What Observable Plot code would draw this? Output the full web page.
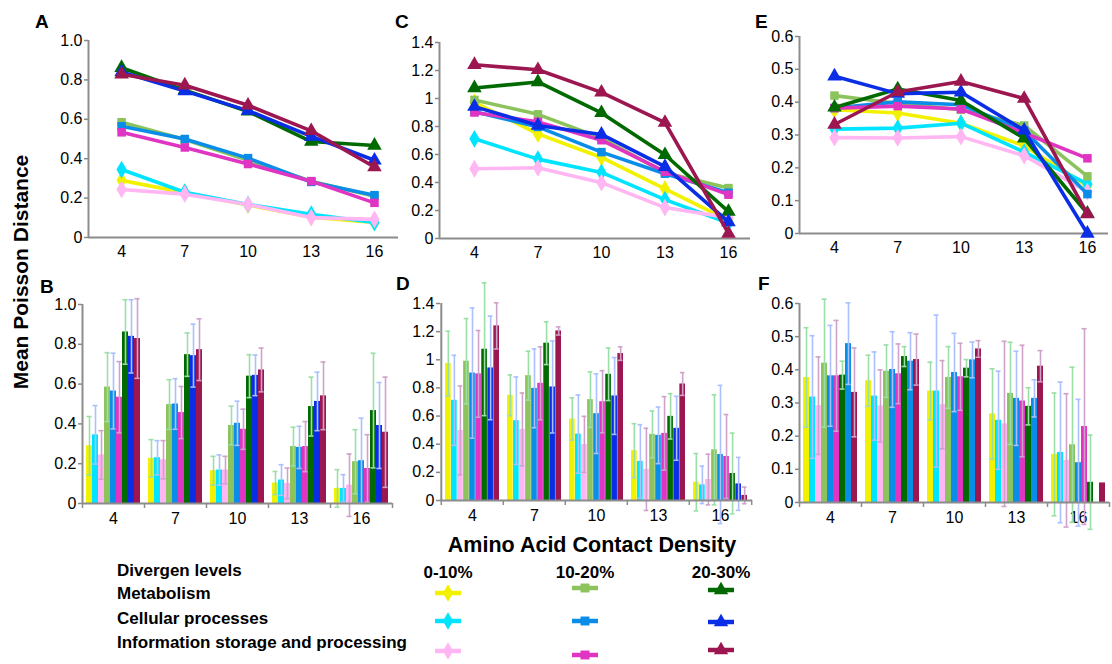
<!DOCTYPE html>
<html><head><meta charset="utf-8">
<script src="https://cdn.jsdelivr.net/npm/d3@7"></script>
<script src="https://cdn.jsdelivr.net/npm/@observablehq/plot@0.6"></script>
<style>
body{margin:0;background:#fff;}
#wrap{position:relative;width:1112px;height:664px;overflow:hidden;font-family:"Liberation Sans",Arial,sans-serif;background:#fff;}
.panel{position:absolute;}
.panel svg [aria-label="y-axis tick"], .panel svg [aria-label="y-axis"] .tick line{stroke:#888;stroke-width:1.5;}
#overlay{position:absolute;left:0;top:0;pointer-events:none;}
</style></head><body><div id="wrap"></div>
<script>
// ---------- data ----------
const densities = [4, 7, 10, 13, 16];
const groups = ["Metabolism", "Cellular processes", "Information storage and processing"];
const levels = ["0-10%", "10-20%", "20-30%"];
// series order: each divergence level x each functional group
const seriesKeys = levels.flatMap(l => groups.map(g => l + " " + g));

// Panels A / B (means and error half-widths)
const meanAB = [
  [0.290, 0.227, 0.165, 0.103, 0.076],
  [0.345, 0.230, 0.168, 0.118, 0.076],
  [0.244, 0.220, 0.168, 0.101, 0.092],
  [0.585, 0.497, 0.392, 0.286, 0.210],
  [0.565, 0.500, 0.403, 0.282, 0.215],
  [0.534, 0.457, 0.373, 0.286, 0.176],
  [0.862, 0.748, 0.640, 0.487, 0.467],
  [0.840, 0.743, 0.644, 0.513, 0.392],
  [0.829, 0.773, 0.671, 0.541, 0.358]
];
const errAB = [
  [0.147, 0.094, 0.072, 0.058, 0.094],
  [0.147, 0.086, 0.076, 0.077, 0.069],
  [0.122, 0.096, 0.069, 0.077, 0.157],
  [0.173, 0.125, 0.097, 0.097, 0.161],
  [0.190, 0.127, 0.111, 0.106, 0.214],
  [0.179, 0.131, 0.101, 0.126, 0.170],
  [0.162, 0.109, 0.108, 0.148, 0.288],
  [0.184, 0.158, 0.102, 0.147, 0.216],
  [0.200, 0.155, 0.110, 0.170, 0.277]
];
// Panels C / D
const meanCD = [
  [0.973, 0.747, 0.579, 0.354, 0.130],
  [0.712, 0.567, 0.472, 0.278, 0.111],
  [0.498, 0.505, 0.399, 0.221, 0.149],
  [0.990, 0.887, 0.717, 0.470, 0.360],
  [0.906, 0.797, 0.617, 0.463, 0.327],
  [0.900, 0.833, 0.702, 0.477, 0.313],
  [1.075, 1.118, 0.897, 0.598, 0.192],
  [0.942, 0.807, 0.743, 0.513, 0.118],
  [1.241, 1.205, 1.044, 0.828, 0.036]
];
const errCD = [
  [0.230, 0.145, 0.150, 0.192, 0.204],
  [0.320, 0.311, 0.278, 0.261, 0.133],
  [0.316, 0.259, 0.199, 0.292, 0.180],
  [0.303, 0.174, 0.197, 0.166, 0.391],
  [0.463, 0.280, 0.283, 0.201, 0.491],
  [0.308, 0.259, 0.221, 0.261, 0.298],
  [0.472, 0.152, 0.187, 0.161, 0.287],
  [0.368, 0.327, 0.273, 0.227, 0.188],
  [0.164, 0.029, 0.048, 0.081, 0.059]
];
// Panels E / F
const meanEF = [
  [0.377, 0.367, 0.336, 0.267, 0.145],
  [0.318, 0.321, 0.336, 0.248, 0.151],
  [0.292, 0.291, 0.295, 0.237, 0.127],
  [0.420, 0.396, 0.377, 0.329, 0.174],
  [0.382, 0.401, 0.392, 0.314, 0.120],
  [0.382, 0.388, 0.379, 0.306, 0.229],
  [0.384, 0.440, 0.405, 0.290, 0.061],
  [0.479, 0.426, 0.430, 0.314, 0.000],
  [0.332, 0.431, 0.463, 0.411, 0.059]
];
const errEF = [
  [0.150, 0.077, 0.087, 0.136, 0.185],
  [0.185, 0.133, 0.229, 0.148, 0.212],
  [0.147, 0.109, 0.133, 0.249, 0.201],
  [0.193, 0.079, 0.093, 0.154, 0.234],
  [0.152, 0.114, 0.118, 0.142, 0.191],
  [0.167, 0.090, 0.101, 0.168, 0.295],
  [0.042, 0.030, 0.026, 0.056, 0.142],
  [0.123, 0.086, 0.054, 0.056, null],
  [0.134, 0.077, 0.025, 0.047, null]
];
// axis ticks
const ticksAB = [0, 0.2, 0.4, 0.6, 0.8, 1.0];
const tickLabelsAB = ["0", "0.2", "0.4", "0.6", "0.8", "1.0"];
const ticksCD = [0, 0.2, 0.4, 0.6, 0.8, 1.0, 1.2, 1.4];
const tickLabelsCD = ["0", "0.2", "0.4", "0.6", "0.8", "1", "1.2", "1.4"];
const ticksEF = [0, 0.1, 0.2, 0.3, 0.4, 0.5, 0.6];
const tickLabelsEF = ["0", "0.1", "0.2", "0.3", "0.4", "0.5", "0.6"];

// ---------- styles ----------
const colors = ["#f2f200", "#00e4ff", "#ffb6f2", "#8cc35c", "#0a8de8", "#e034c2", "#006a00", "#0a2ee6", "#9c1750"];
const colorsF = colors.map((c, i) => i === 7 ? "#0a8de8" : c);
const errColors = ["#9ae0a6", "#aac0ff", "#cfa2c9"];
const symbols = ["diamond", "square", "triangle"];
const axisGray = "#8c8c8c";
const font = "'Liberation Sans', Arial, sans-serif";

const wrap = document.getElementById("wrap");
function place(svg, left, top) {
  const div = document.createElement("div");
  div.className = "panel";
  div.style.left = left + "px";
  div.style.top = top + "px";
  div.appendChild(svg);
  wrap.appendChild(div);
}
function fmt(ticks, labels) { return v => labels[ticks.findIndex(t => Math.abs(t - v) < 1e-9)]; }

function linePanel(means, ticks, labels, c) {
  const marks = [
    Plot.ruleY([0], {stroke: axisGray, strokeWidth: 2}),
    Plot.ruleX([c.xDomain[0]], {stroke: axisGray, strokeWidth: 2})
  ];
  seriesKeys.forEach((k, si) => {
    const data = densities.map((d, di) => ({d, v: means[si][di]}));
    const lvl = Math.floor(si / 3);
    marks.push(Plot.line(data, {x: "d", y: "v", stroke: colors[si], strokeWidth: 3.6}));
    marks.push(Plot.dot(data, {x: "d", y: "v", fill: colors[si], symbol: symbols[lvl], r: lvl === 1 ? 4.8 : 5.4}));
  });
  const svg = Plot.plot({
    width: c.width, height: c.height,
    marginLeft: c.ml, marginRight: c.mr, marginTop: c.mt, marginBottom: c.mb,
    style: {fontSize: "16px", fontFamily: font, color: "#000", background: "transparent", overflow: "visible"},
    x: {type: "linear", domain: c.xDomain, ticks: densities, tickSize: 0, tickPadding: 8, tickFormat: d => String(d), label: null},
    y: {domain: [0, ticks[ticks.length - 1]], ticks, tickFormat: fmt(ticks, labels), tickSize: 4, tickPadding: 2, label: null},
    marks
  });
  place(svg, c.left, c.top);
}

function barPanel(means, errs, ticks, labels, cols, c) {
  const bw = (c.width - c.ml - c.mr) / densities.length;
  const pad = 4;
  const barW = (bw - 2 * pad) / seriesKeys.length;
  const yMax = ticks[ticks.length - 1];
  const tickLen = yMax * 5 / (c.height - c.mt - c.mb);
  const marks = [];
  seriesKeys.forEach((k, si) => {
    const data = densities.map((d, di) => ({d, v: means[si][di]})).filter(r => r.v > 0);
    const il = pad + si * barW, ir = bw - pad - (si + 1) * barW;
    marks.push(Plot.barY(data, {x: "d", y: "v", fill: cols[si], insetLeft: il, insetRight: ir}));
  });
  seriesKeys.forEach((k, si) => {
    const data = densities.map((d, di) => ({d, v: means[si][di], e: errs[si][di]})).filter(r => r.e != null);
    const il = pad + si * barW, ir = bw - pad - (si + 1) * barW;
    const dx = -bw / 2 + pad + (si + 0.5) * barW;
    const stroke = errColors[si % 3];
    marks.push(Plot.ruleX(data, {x: "d", y1: r => r.v - r.e, y2: r => r.v + r.e, stroke, strokeWidth: 1.6, dx}));
    marks.push(Plot.tickY(data, {x: "d", y: r => r.v + r.e, stroke, strokeWidth: 1.6, insetLeft: il + 0.5, insetRight: ir + 0.5}));
    marks.push(Plot.tickY(data, {x: "d", y: r => r.v - r.e, stroke, strokeWidth: 1.6, insetLeft: il + 0.5, insetRight: ir + 0.5}));
  });
  marks.push(Plot.ruleY([0], {stroke: axisGray, strokeWidth: 2}));
  marks.push(Plot.ruleX([densities[0]], {stroke: axisGray, strokeWidth: 2, dx: -bw / 2}));
  marks.push(Plot.ruleX(densities, {y1: 0, y2: -tickLen, stroke: axisGray, strokeWidth: 1.5, dx: -bw / 2}));
  marks.push(Plot.ruleX([densities[densities.length - 1]], {y1: 0, y2: -tickLen, stroke: axisGray, strokeWidth: 1.5, dx: bw / 2}));
  const svg = Plot.plot({
    width: c.width, height: c.height,
    marginLeft: c.ml, marginRight: c.mr, marginTop: c.mt, marginBottom: c.mb,
    style: {fontSize: "16px", fontFamily: font, color: "#000", background: "transparent", overflow: "visible"},
    x: {type: "band", domain: densities, padding: 0, tickSize: 0, tickPadding: 9, tickFormat: d => String(d), label: null},
    y: {domain: [0, yMax], ticks, tickFormat: fmt(ticks, labels), tickSize: 4, tickPadding: 2, label: null},
    marks
  });
  place(svg, c.left, c.top);
}

linePanel(meanAB, ticksAB, tickLabelsAB, {left: 30, top: 0, width: 380, height: 270, ml: 58, mr: 12, mt: 40, mb: 33, xDomain: [2.43, 17.14]});
linePanel(meanCD, ticksCD, tickLabelsCD, {left: 390, top: 0, width: 370, height: 270, ml: 49, mr: 10, mt: 42, mb: 32, xDomain: [2.35, 17.04]});
linePanel(meanEF, ticksEF, tickLabelsEF, {left: 750, top: 0, width: 362, height: 270, ml: 49, mr: 4, mt: 36, mb: 37, xDomain: [2.34, 17.0]});
barPanel(meanAB, errAB, ticksAB, tickLabelsAB, colors, {left: 30, top: 270, width: 380, height: 270, ml: 52, mr: 18, mt: 34, mb: 37});
barPanel(meanCD, errCD, ticksCD, tickLabelsCD, colors, {left: 390, top: 270, width: 370, height: 270, ml: 50, mr: 8, mt: 33, mb: 40});
barPanel(meanEF, errEF, ticksEF, tickLabelsEF, colorsF, {left: 750, top: 270, width: 362, height: 270, ml: 49, mr: 3, mt: 33, mb: 38});

// ---------- text + legend overlay ----------
const svg = d3.select(wrap).append("svg").attr("id", "overlay").attr("width", 1112).attr("height", 664)
  .style("font-family", font).style("font-weight", "bold");
const panelLabels = [["A", 35, 28], ["B", 40, 293], ["C", 395, 28], ["D", 396, 290], ["E", 755, 28], ["F", 758, 290]];
svg.selectAll("text.pl").data(panelLabels).join("text").attr("class", "pl")
  .attr("x", d => d[1]).attr("y", d => d[2]).attr("font-size", 19).text(d => d[0]);
svg.append("text").attr("transform", "translate(28,272) rotate(-90)").attr("text-anchor", "middle")
  .attr("font-size", 21).text("Mean Poisson Distance");
svg.append("text").attr("x", 592).attr("y", 552).attr("text-anchor", "middle").attr("font-size", 21.5)
  .text("Amino Acid Contact Density");
svg.append("text").attr("x", 117).attr("y", 576).attr("font-size", 17).text("Divergen levels");
const rowY = [599, 624, 648];
svg.selectAll("text.grp").data(groups).join("text").attr("class", "grp")
  .attr("x", 117).attr("y", (d, i) => rowY[i]).attr("font-size", 17).text(d => d);
const colX = [448, 585, 721];
svg.selectAll("text.lvl").data(levels).join("text").attr("class", "lvl")
  .attr("x", (d, i) => colX[i]).attr("y", 578).attr("text-anchor", "middle").attr("font-size", 17).text(d => d);
const symY = [[593, 621, 651], [588, 621, 655], [590, 622, 650]];
const d3sym = [d3.symbolDiamond, d3.symbolSquare, d3.symbolTriangle];
seriesKeys.forEach((k, si) => {
  const lvl = Math.floor(si / 3), g = si % 3;
  const cx = colX[lvl], cy = symY[lvl][g];
  const gg = svg.append("g").attr("transform", `translate(${cx},${cy})`);
  gg.append("line").attr("x1", -13).attr("x2", 13).attr("stroke", colors[si]).attr("stroke-width", 4.5);
  gg.append("path").attr("d", d3.symbol(d3sym[lvl], lvl === 1 ? 80 : 90)()).attr("fill", colors[si]);
});
</script></body></html>
